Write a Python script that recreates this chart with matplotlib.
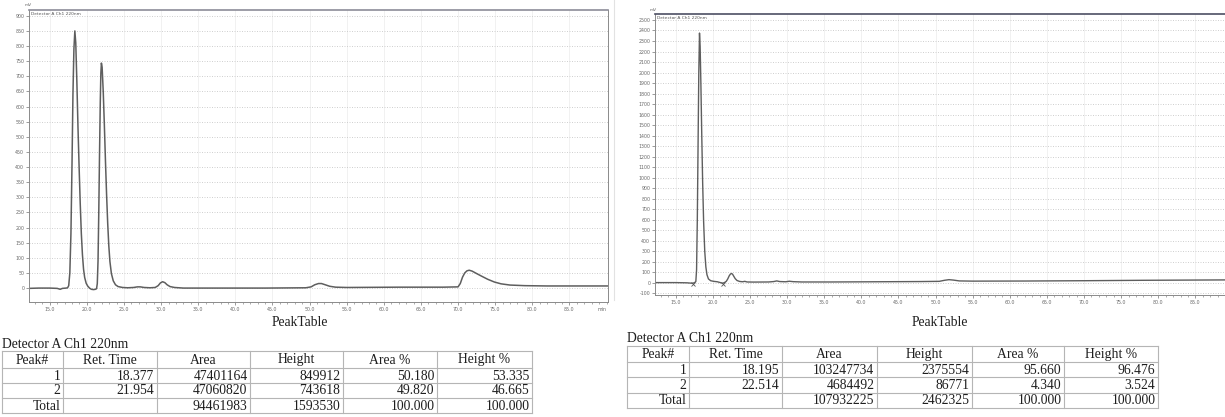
import matplotlib
matplotlib.use("Agg")
import matplotlib.pyplot as plt
from matplotlib.ticker import MultipleLocator, FormatStrFormatter

# --- chromatogram A (racemic sample), time in min, signal in mV ---
trace_a_time = [12.2, 13.5, 15.0, 16.0, 16.4, 16.7, 17.2, 17.4, 17.55, 17.7, 17.85,
                18.0, 18.12, 18.25, 18.5, 18.65, 18.8, 18.95, 19.1, 19.25, 19.4,
                19.55, 19.7, 19.9, 20.1, 20.35, 20.6, 20.9, 21.15, 21.3, 21.4,
                21.5, 21.6, 21.7, 21.8, 21.88, 22.05, 22.2, 22.35, 22.5, 22.65,
                22.8, 22.95, 23.1, 23.3, 23.55, 23.85, 24.2, 24.8, 25.5, 26.3,
                26.8, 27.2, 27.7, 28.5, 29.2, 29.6, 29.9, 30.2, 30.5, 30.8, 31.2,
                31.8, 33.0, 38.0, 44.0, 49.5, 50.2, 50.7, 51.2, 51.6, 52.1, 52.7,
                53.5, 55.0, 62.0, 68.0, 70.0, 70.3, 70.6, 70.9, 71.2, 71.5, 71.9,
                72.5, 73.2, 74.0, 74.9, 75.8, 77.0, 79.0, 82.0, 86.0, 90.2]
trace_a_mv = [-1, 0, 0, -1, -4, -1, 0, 1, 8, 50, 180,
              420, 640, 790, 810, 680, 530, 400, 280, 180, 110,
              62, 35, 16, 7, 0, -4, -5, -4, -2, 15,
              90, 250, 440, 610, 710, 730, 650, 540, 420, 310,
              215, 140, 88, 48, 24, 11, 5, 2, 1, 2,
              4, 4, 2, 1, 2, 8, 17, 21, 18, 11, 5,
              2, 0, 0, 0, 1, 4, 11, 15, 15, 11, 6,
              3, 2, 3, 3, 4, 15, 36, 50, 57, 59, 56,
              48, 39, 29, 20, 14, 10, 8, 7, 7, 7]

# --- chromatogram B (enriched sample) ---
trace_b_time = [12.2, 15.0, 16.5, 17.2, 17.5, 17.7, 17.8, 17.9, 18.0, 18.1,
                18.28, 18.38, 18.5, 18.62, 18.75, 18.9, 19.05, 19.2, 19.4, 19.7,
                20.1, 20.6, 21.0, 21.3, 21.55, 21.8, 22.0, 22.2, 22.37, 22.65,
                22.8, 23.0, 23.25, 23.6, 24.0, 24.3, 24.6, 25.5, 27.5, 28.2,
                28.6, 29.0, 29.8, 30.3, 30.8, 32.0, 36.0, 42.0, 48.0, 50.5,
                51.2, 51.8, 52.4, 53.2, 55.0, 62.0, 70.0, 78.0, 90.2]
trace_b_mv = [0, 0, -2, -6, -2, 10, 120, 600, 1300, 2000,
              2250, 1900, 1400, 950, 580, 300, 150, 75, 35, 18,
              12, 8, 0, -6, 0, 12, 35, 65, 82, 80,
              62, 38, 20, 11, 8, 12, 6, 5, 6, 10,
              16, 10, 8, 13, 9, 6, 6, 8, 10, 12,
              22, 28, 24, 16, 14, 15, 18, 22, 26]
marks_b_time = [17.3, 21.35]
marks_b_mv = [-10, -10]

# --- peak tables (Detector A Ch1 220nm) ---
table_headers = ["Peak#", "Ret. Time", "Area", "Height", "Area %", "Height %"]

peak_a_no = [1, 2]
peak_a_rt = [18.377, 21.954]
peak_a_area = [47401164, 47060820]
peak_a_height = [849912, 743618]
peak_a_area_pct = [50.180, 49.820]
peak_a_height_pct = [53.335, 46.665]
total_a = [94461983, 1593530, 100.000, 100.000]

peak_b_no = [1, 2]
peak_b_rt = [18.195, 22.514]
peak_b_area = [103247734, 4684492]
peak_b_height = [2375554, 86771]
peak_b_area_pct = [95.660, 4.340]
peak_b_height_pct = [96.476, 3.524]
total_b = [107932225, 2462325, 100.000, 100.000]

x_ticks = [15.0, 20.0, 25.0, 30.0, 35.0, 40.0, 45.0, 50.0,
           55.0, 60.0, 65.0, 70.0, 75.0, 80.0, 85.0]

W, H = 1225, 417
TRACE = "#5e5e5e"
AXIS = "#8a8a8a"
TICKTXT = "#6a6a6a"


def with_apex(times, signals, rts, heights_uv):
    # peak tops come from the peak table (uV -> mV)
    pts = list(zip(times, signals)) + [(t, h / 1000.0) for t, h in zip(rts, heights_uv)]
    pts.sort()
    return [p[0] for p in pts], [p[1] for p in pts]


def px_axes(fig, left, top, right, bottom):
    return fig.add_axes([left / W, 1 - bottom / H, (right - left) / W, (bottom - top) / H])


def style_chrom(ax, ylim, ystep, top_color, unit_label=True):
    ax.set_xlim(12.2, 90.2)
    ax.set_ylim(*ylim)
    ax.set_xticks(x_ticks)
    ax.xaxis.set_minor_locator(MultipleLocator(1))
    ax.xaxis.set_major_formatter(FormatStrFormatter("%.1f"))
    ax.yaxis.set_major_locator(MultipleLocator(ystep))
    ax.yaxis.set_major_formatter(FormatStrFormatter("%d"))
    ax.tick_params(axis="both", which="major", labelsize=3.4, labelcolor=TICKTXT,
                   color=AXIS, length=2.2, width=0.6, pad=1.2)
    ax.tick_params(axis="x", which="minor", color=AXIS, length=1.3, width=0.5)
    for s in ("left", "bottom", "right"):
        ax.spines[s].set_color(AXIS)
        ax.spines[s].set_linewidth(0.7)
    ax.spines["top"].set_color(top_color)
    ax.spines["top"].set_linewidth(1.2)
    ax.grid(axis="y", color="#c9c9c9", linestyle=(0, (1.2, 1.8)), linewidth=0.6)
    ax.grid(axis="x", color="#ececec", linewidth=0.5)
    ax.set_axisbelow(True)
    ax.text(0.004, 0.993, "Detector A Ch1 220nm", transform=ax.transAxes,
            fontsize=3.2, color="#555555", va="top", ha="left")
    if unit_label:
        ax.text(89.4, -0.017, "min", transform=ax.get_xaxis_transform(),
                fontsize=3.4, color=TICKTXT, ha="center", va="top")


def draw_table(ax, x_edges, y_edges, rows):
    left, right = x_edges[0], x_edges[-1]
    for y in y_edges:
        ax.plot([left, right], [y, y], color="#b5b5b5", lw=0.8)
    for x in x_edges:
        ax.plot([x, x], [y_edges[0], y_edges[-1]], color="#b5b5b5", lw=0.8)
    yc = (y_edges[0] + y_edges[1]) / 2
    for j, h in enumerate(table_headers):
        ax.text((x_edges[j] + x_edges[j + 1]) / 2, yc + 0.5, h, ha="center", va="center",
                fontsize=9.8, family="Liberation Serif", color="#1e1e1e")
    for i, row in enumerate(rows):
        yc = (y_edges[i + 1] + y_edges[i + 2]) / 2
        for j, cell in enumerate(row):
            if cell == "":
                continue
            ax.text(x_edges[j + 1] - 2.5, yc + 0.5, cell, ha="right", va="center",
                    fontsize=9.8, family="Liberation Serif", color="#1e1e1e")


def table_rows(no, rt, area, height, apct, hpct, total):
    rows = []
    for k in range(len(no)):
        rows.append([str(no[k]), f"{rt[k]:.3f}", str(area[k]), str(height[k]),
                     f"{apct[k]:.3f}", f"{hpct[k]:.3f}"])
    rows.append(["Total", "", str(total[0]), str(total[1]),
                 f"{total[2]:.3f}", f"{total[3]:.3f}"])
    return rows


fig = plt.figure(figsize=(W / 100, H / 100), dpi=100)
fig.patch.set_facecolor("white")

# left chromatogram
ax1 = px_axes(fig, 29, 10, 608, 302)
ta, sa = with_apex(trace_a_time, trace_a_mv, peak_a_rt, peak_a_height)
ax1.plot(ta, sa, color=TRACE, lw=1.1, solid_joinstyle="round")
style_chrom(ax1, (-46, 919), 50, "#8c8c98")

# right chromatogram (runs past the page edge)
ax2 = px_axes(fig, 655, 14, 1234, 295)
tb, sb = with_apex(trace_b_time, trace_b_mv, peak_b_rt, peak_b_height)
ax2.plot(tb, sb, color=TRACE, lw=1.0, solid_joinstyle="round")
ax2.plot(marks_b_time, marks_b_mv, linestyle="none", marker="x", ms=2.2,
         mew=0.6, color="#555555")
style_chrom(ax2, (-118, 2557), 100, "#4d4f63", unit_label=False)

# page layer for headings and tables, in pixel units
page = fig.add_axes([0, 0, 1, 1], zorder=-1)
page.set_xlim(0, W)
page.set_ylim(H, 0)
page.axis("off")

page.text(28, 5, "mV", fontsize=3.2, color=TICKTXT, ha="center", va="center")
page.text(653, 10, "mV", fontsize=3.2, color=TICKTXT, ha="center", va="center")
page.plot([614, 614], [0, 300], color="#e2e2e2", lw=0.8)

page.text(300, 323, "PeakTable", ha="center", va="center", fontsize=9.8,
          family="Liberation Serif", color="#1e1e1e")
page.text(2, 344, "Detector A Ch1 220nm", ha="left", va="center", fontsize=9.8,
          family="Liberation Serif", color="#1e1e1e")
draw_table(page, [2, 63, 157, 250, 343, 437, 532], [351, 368, 383, 398, 413],
           table_rows(peak_a_no, peak_a_rt, peak_a_area, peak_a_height,
                      peak_a_area_pct, peak_a_height_pct, total_a))

page.text(940, 322, "PeakTable", ha="center", va="center", fontsize=9.8,
          family="Liberation Serif", color="#1e1e1e")
page.text(627, 338, "Detector A Ch1 220nm", ha="left", va="center", fontsize=9.8,
          family="Liberation Serif", color="#1e1e1e")
draw_table(page, [627, 689, 782, 877, 972, 1064, 1158], [346, 362, 377, 393, 408],
           table_rows(peak_b_no, peak_b_rt, peak_b_area, peak_b_height,
                      peak_b_area_pct, peak_b_height_pct, total_b))

fig.savefig("out.png", dpi=100, facecolor="white")
